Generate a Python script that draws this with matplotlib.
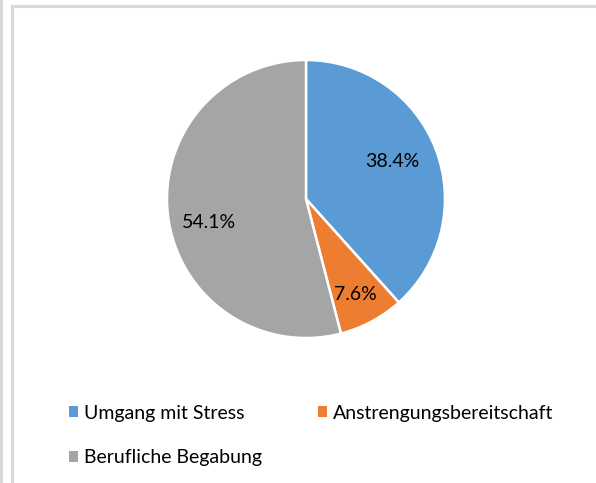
import numpy as np
import matplotlib.pyplot as plt
from matplotlib.lines import Line2D
from matplotlib.patches import Patch

plt.rcParams['font.family'] = ['Lato', 'DejaVu Sans']

labels = ["Umgang mit Stress", "Anstrengungsbereitschaft", "Berufliche Begabung"]
shares = [38.4, 7.6, 54.1]
colors = ["#5B9BD5", "#ED7D31", "#A5A5A5"]

fig = plt.figure(figsize=(5.96, 4.83), dpi=100)
ax = fig.add_axes([0.2802, 0.3002, 0.4664, 0.5756])

wedges, texts, autotexts = ax.pie(
    shares, colors=colors, startangle=90, counterclock=False,
    autopct="%.1f%%", pctdistance=0.72,
    wedgeprops=dict(edgecolor="white", linewidth=1.8),
    textprops=dict(fontsize=14, color="#000000"),
)
# keep the printed shares as given (they sum to 100.1) and nudge labels like Excel does
label_r = [0.675, 0.775, 0.72]
label_shift = [2.4, -1.0, 6.3]
for t, v, w, r, s in zip(autotexts, shares, wedges, label_r, label_shift):
    t.set_text(f"{v:.1f}%")
    a = np.deg2rad((w.theta1 + w.theta2) / 2 + s)
    t.set_position((r * np.cos(a), r * np.sin(a)))
ax.set_aspect("auto")
ax.set_xlim(-1, 1)
ax.set_ylim(-1, 1)

# legend: column-major fill, so order to get rows Umgang | Anstrengung, Berufliche
order = [0, 2, 1]
handles = [Patch(facecolor=colors[i], edgecolor="none") for i in order]
fig.legend(handles, [labels[i] for i in order], ncol=2,
           loc="upper left", bbox_to_anchor=(0.115, 0.162),
           frameon=False, fontsize=14, handlelength=0.5, handleheight=0.5,
           handletextpad=0.3, labelspacing=1.4, columnspacing=2.85,
           borderaxespad=0, borderpad=0)

# frame lines of the original chart area
frame = "#D9D9D9"
fig.add_artist(Line2D([12 / 596, 12 / 596], [0, 1 - 5.5 / 483], color=frame, lw=2.2))
fig.add_artist(Line2D([12 / 596, 1], [1 - 5.5 / 483, 1 - 5.5 / 483], color=frame, lw=2.2))
fig.add_artist(Line2D([1 / 596, 1 / 596], [0, 1], color=frame, lw=2.2))

fig.savefig("out.png", dpi=100)
